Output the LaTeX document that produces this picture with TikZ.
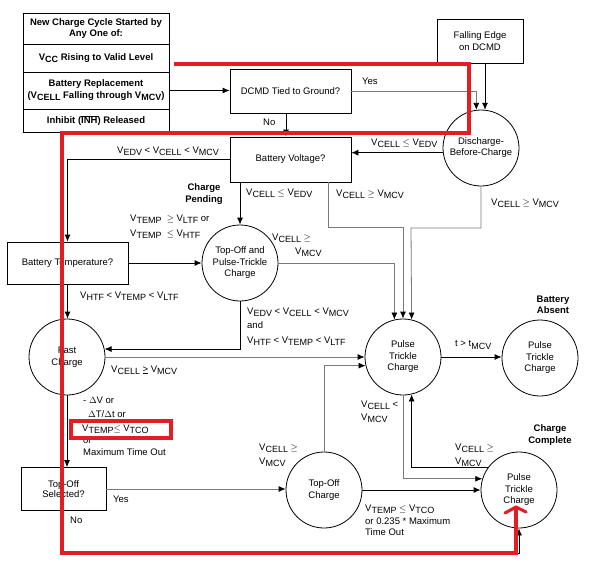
\documentclass[tikz,border=0pt]{standalone}
\usepackage{fontspec}
\setmainfont{Liberation Sans}
\usetikzlibrary{arrows.meta,calc}
\definecolor{redline}{RGB}{228,28,36}
\newcommand\Vs[1]{V\raisebox{-.25em}{\fontsize{9}{9}\selectfont #1}}
\newcommand\tsub[1]{t\raisebox{-.25em}{\fontsize{9}{9}\selectfont #1}}
\begin{document}
\begin{tikzpicture}[x=1pt,y=-1pt,
  every node/.style={font=\fontsize{9.5}{11.5}\selectfont},
  box/.style={draw, line width=0.8pt, inner sep=1pt, align=center},
  state/.style={draw, circle, line width=0.8pt, minimum size=76pt, inner sep=0pt, align=center},
  lbl/.style={anchor=west, inner sep=0pt},
  boldlbl/.style={align=center, inner sep=0pt, font=\fontsize{9.5}{11.5}\selectfont\bfseries},
  arr/.style={line width=0.8pt, -{Latex[length=7pt,width=6pt]}},
  garr/.style={line width=0.8pt, draw=black!52, -{Latex[length=7pt,width=6pt,color=black]}},
  redl/.style={draw=redline, line width=3.1pt},
]
\useasboundingbox (0,0) rectangle (609,562);
\fill[white] (0,0) rectangle (609,562);

% start box
\node[box, minimum width=146pt, minimum height=31pt] (s1) at (96,28.5) {\bfseries New Charge Cycle Started by\\\bfseries Any One of:};
\node[box, minimum width=146pt, minimum height=28pt] (s2) at (96,58) {\bfseries \Vs{CC} Rising to Valid Level};
\node[box, minimum width=146pt, minimum height=37pt] (s3) at (96,90.5) {\bfseries Battery Replacement\\\bfseries (\Vs{CELL} Falling through \Vs{MCV})};
\node[box, minimum width=146pt, minimum height=23pt] (s4) at (96,120.5) {\bfseries Inhibit (\(\overline{\hbox{INH}}\)) Released};

% boxes
\node[box, minimum width=121pt, minimum height=44pt] (dcmd) at (290.5,91) {DCMD Tied to Ground?};
\node[box, minimum width=86pt, minimum height=44pt] (fall) at (480,41) {Falling Edge\\on DCMD};
\node[box, minimum width=121pt, minimum height=45pt] (bv) at (290.5,159.5) {Battery Voltage?};
\node[box, minimum width=121pt, minimum height=42pt] (bt) at (67.5,263) {Battery Temperature?};
\node[box, minimum width=85pt, minimum height=43pt, font=\fontsize{9.5}{10.5}\selectfont] (tos) at (63.5,489) {Top-Off\\Selected?};

% circles
\node[state, font=\fontsize{9.5}{11}\selectfont] (dbc) at (481,148) {Discharge-\\Before-Charge};
\node[state] (tp) at (240,263) {Top-Off and\\Pulse-Trickle\\Charge};
\node[state] (fast) at (67,357) {Fast\\Charge};
\node[state] (pt) at (403,357) {Pulse\\Trickle\\Charge};
\node[state] (ba) at (540,358) {Pulse\\Trickle\\Charge};
\node[state] (toc) at (324,490) {Top-Off\\Charge};
\node[state] (cc) at (519,490) {Pulse\\Trickle\\Charge};

% bold titles
\node[boldlbl] (cp) at (204,194) {Charge\\Pending};
\node[boldlbl] (bab) at (553,305) {Battery\\Absent};
\node[boldlbl] (ccl) at (550,435) {Charge\\Complete};

% connectors
\draw[arr] (s3.east) -- (s3.east -| dcmd.west);
\draw[garr] (dcmd.east) -| (dbc.97.6);
\node[lbl] (lyes1) at (362,81) {Yes};
\draw[arr] (dbc.84 |- fall.south) -- (dbc.84);
\draw[arr] (dcmd.south -| 286,0) -- (bv.north -| 286,0);
\node[lbl] (lno1) at (263,122) {No};
\draw[arr] (dbc.187.6) -- (dbc.187.6 -| bv.east);
\node[lbl] (l1) at (371,143) {\Vs{CELL} \(\le\) \Vs{EDV}};
\draw[arr] (bv.west) -| (bt.north);
\node[lbl] (l2) at (117,151) {\Vs{EDV} < \Vs{CELL} < \Vs{MCV}};
\draw[arr] (bv.south -| tp.north) -- (tp.north);
\node[lbl] (l3) at (246,193) {\Vs{CELL} \(\le\) \Vs{EDV}};
\draw[garr] ($(bv.south east)+(-23,0)$) |- ($(pt.north)+(0,-91)$) -- (pt.north);
\node[lbl] (l4) at (336,194) {\Vs{CELL} \(\ge\) \Vs{MCV}};
\draw[garr] (dbc.south) |- (411,228) -- (pt.77.85);
\node[lbl] (l5) at (491,203) {\Vs{CELL} \(\ge\) \Vs{MCV}};
\node[lbl] (l6) at (130,219) {\Vs{TEMP}\ \ \(\ge\) \Vs{LTF} or};
\node[lbl] (l7) at (130,234) {\Vs{TEMP}\ \ \(\le\) \Vs{HTF}};
\draw[arr] (bt.east) -- (bt.east -| tp.west);
\draw[garr] (tp.east) -| (pt.103.7);
\node[lbl] (l8) at (272,238) {\Vs{CELL} \(\ge\)};
\node[lbl] (l9) at (295,252) {\Vs{MCV}};
\draw[arr] (bt.south) -- (bt.south |- fast.north);
\node[lbl] (l10) at (80,296) {\Vs{HTF} < \Vs{TEMP} < \Vs{LTF}};
\draw[arr] (tp.south) |- (fast.12.2);
\node[lbl] (l11) at (247,312) {\Vs{EDV} < \Vs{CELL} < \Vs{MCV}};
\node[lbl] (l12) at (247,325) {and};
\node[lbl] (l13) at (247,341) {\Vs{HTF} < \Vs{TEMP} < \Vs{LTF}};
\draw[garr] (fast.east) -- (pt.west);
\node[lbl] (l14) at (111,370) {\Vs{CELL} \underline{>} \Vs{MCV}};
\draw[arr] (pt.east) -- (pt.east -| ba.west);
\node[lbl] (l15) at (455,345) {t > \tsub{MCV}};
\draw[arr] (fast.south) -- (fast.south |- tos.north);
\node[lbl] (l16) at (83,400) {- \(\Delta\)V or};
\node[lbl] (l17) at (88,414) {\(\Delta\)T/\(\Delta\)t or};
\node[lbl] (l18) at (82,429) {\Vs{TEMP}\(\le\) \Vs{TCO}};
\node[lbl] (l19) at (83,441) {or};
\node[lbl] (l20) at (83,452) {Maximum Time Out};
\draw[garr] (tos.east) -- (tos.east -| toc.west);
\node[lbl] (lyes2) at (113,499) {Yes};
\node[lbl] (lno2) at (70,520) {No};
\draw[garr] (toc.north) |- (pt.193.7);
\node[lbl] (l21) at (259,448) {\Vs{CELL} \(\ge\)};
\node[lbl] (l22) at (259,462) {\Vs{MCV}};
\draw[arr] (toc.east) -- (cc.west);
\node[lbl] (l23) at (365,509) {\Vs{TEMP} \(\le\) \Vs{TCO}};
\node[lbl] (l24) at (365,521) {or 0.235 * Maximum};
\node[lbl] (l25) at (365,532) {Time Out};
\draw[garr] (pt.south) |- (cc.163.2);
\draw[arr] (cc.144.6) -| (pt.283.7);
\node[lbl] (l26) at (361,405) {\Vs{CELL} <};
\node[lbl] (l27) at (361,418) {\Vs{MCV}};
\node[lbl] (l28) at (455,448) {\Vs{CELL} \(\ge\)};
\node[lbl] (l29) at (455,462) {\Vs{MCV}};
\draw[arr] (tos.south) |- ($(cc.south)+(0,25)$) -- (cc.south);

% red annotations
\draw[redl, line join=miter] (174,64) -- (469,64) -- (469,133) -- (62,133) -- (62,553) -- (516,553) -- (516,508);
\draw[redl, line cap=round, line join=round] (505,513) -- (516,507) -- (526,512);
\draw[redl] (71,421) rectangle (171,438);
\end{tikzpicture}
\end{document}
